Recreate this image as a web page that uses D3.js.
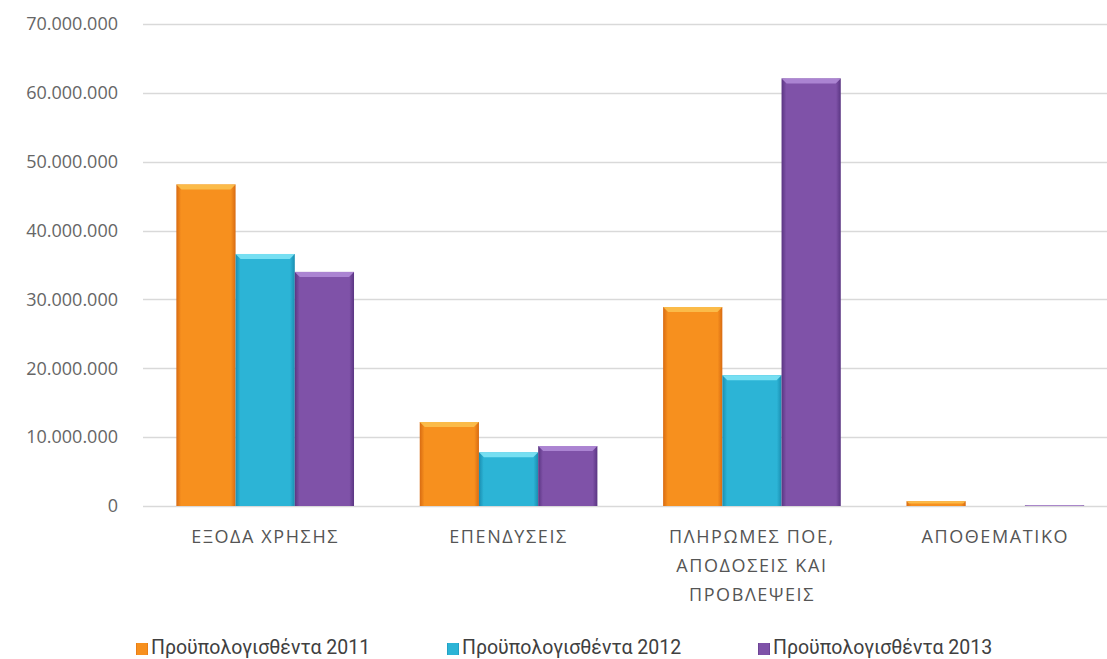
<!DOCTYPE html>
<html>
<head>
  <meta charset="utf-8">
  <title>Bar Chart</title>
  <script src="https://d3js.org/d3.v7.min.js"></script>
  <style>
    body { margin: 0; background: #fff; }
    .tick-label { font-family: "Open Sans", sans-serif; font-size: 18px; fill: #666666; }
    .cat-label { font-family: "Open Sans", sans-serif; font-size: 18px; letter-spacing: 1.6px; fill: #555555; }
    .legend-label { font-family: "Roboto", sans-serif; font-size: 19.5px; fill: #404040; }
  </style>
</head>
<body>
  <svg id="bar_chart" width="1107" height="659"></svg>

  <script>
    // data
    var categories = [
      ["ΕΞΟΔΑ ΧΡΗΣΗΣ"],
      ["ΕΠΕΝΔΥΣΕΙΣ"],
      ["ΠΛΗΡΩΜΕΣ ΠΟΕ,", "ΑΠΟΔΟΣΕΙΣ ΚΑΙ", "ΠΡΟΒΛΕΨΕΙΣ"],
      ["ΑΠΟΘΕΜΑΤΙΚΟ"]
    ];
    var seriesNames = ["Προϋπολογισθέντα 2011", "Προϋπολογισθέντα 2012", "Προϋπολογισθέντα 2013"];
    var values2011 = [46700000, 12200000, 28900000, 700000];
    var values2012 = [36600000, 7800000, 19000000, 0];
    var values2013 = [34000000, 8700000, 62100000, 100000];
    var yTicks = [0, 10000000, 20000000, 30000000, 40000000, 50000000, 60000000, 70000000];

    var series = [values2011, values2012, values2013];
    var colors = [
      { base: "#f7901e", dark: "#d86b12", light: "#fbc04e" },
      { base: "#2cb4d6", dark: "#1a8db0", light: "#7ee3f5" },
      { base: "#7f52a8", dark: "#5a3582", light: "#b08ad6" }
    ];

    var svg = d3.select("#bar_chart");

    var x0 = d3.scaleBand()
      .domain(d3.range(categories.length))
      .range([143.5, 1117])
      .paddingInner(0.27)
      .paddingOuter(0.135);

    var x1 = d3.scaleBand()
      .domain(d3.range(series.length))
      .range([0, x0.bandwidth()]);

    var y = d3.scaleLinear()
      .domain([0, 70000000])
      .range([506, 24]);

    var fmt = function(v) {
      return d3.format(",")(v).replace(/,/g, ".");
    };

    // gradients
    var defs = svg.append("defs");
    colors.forEach(function(c, i) {
      var g = defs.append("linearGradient").attr("id", "grad" + i)
        .attr("x1", 0).attr("x2", 1).attr("y1", 0).attr("y2", 0);
      g.append("stop").attr("offset", "0%").attr("stop-color", c.dark);
      g.append("stop").attr("offset", "8%").attr("stop-color", c.base);
      g.append("stop").attr("offset", "50%").attr("stop-color", c.base);
      g.append("stop").attr("offset", "92%").attr("stop-color", c.base);
      g.append("stop").attr("offset", "100%").attr("stop-color", c.dark);
    });

    // gridlines
    svg.append("g").selectAll("line")
      .data(yTicks)
      .join("line")
      .attr("x1", 143).attr("x2", 1107)
      .attr("y1", function(d) { return Math.round(y(d)) + 0.5; })
      .attr("y2", function(d) { return Math.round(y(d)) + 0.5; })
      .attr("stroke", "#d9d9d9")
      .attr("stroke-width", 1.3);

    // y tick labels
    svg.append("g").selectAll("text")
      .data(yTicks)
      .join("text")
      .attr("class", "tick-label")
      .attr("x", 118)
      .attr("y", function(d) { return y(d); })
      .attr("dy", "0.35em")
      .attr("text-anchor", "end")
      .text(fmt);

    // bars
    var groups = svg.append("g").selectAll("g")
      .data(categories)
      .join("g")
      .attr("transform", function(d, i) { return "translate(" + x0(i) + ",0)"; });

    groups.each(function(c, ci) {
      var g = d3.select(this);
      series.forEach(function(vals, si) {
        var v = vals[ci];
        var bx = x1(si), bw = x1.bandwidth();
        var top = y(v), h = y(0) - y(v);
        if (h <= 0) return;
        g.append("rect")
          .attr("x", bx).attr("y", top)
          .attr("width", bw).attr("height", h)
          .attr("fill", "url(#grad" + si + ")");
        // bevel top
        var bev = Math.min(5, h / 2);
        g.append("path")
          .attr("d", "M" + bx + "," + top + "L" + (bx + bw) + "," + top +
            "L" + (bx + bw - bev) + "," + (top + bev) + "L" + (bx + bev) + "," + (top + bev) + "Z")
          .attr("fill", colors[si].light)
          .attr("opacity", 0.9);
      });
    });

    // category labels
    var labels = svg.append("g").selectAll("text")
      .data(categories)
      .join("text")
      .attr("class", "cat-label")
      .attr("text-anchor", "middle")
      .attr("x", function(d, i) { return x0(i) + x0.bandwidth() / 2; })
      .attr("y", 542.5);
    labels.selectAll("tspan")
      .data(function(d) { return d; })
      .join("tspan")
      .attr("x", function() { return d3.select(this.parentNode).attr("x"); })
      .attr("dy", function(d, i) { return i === 0 ? 0 : 29; })
      .text(function(d) { return d; });

    // legend
    var legendX = [136, 447, 758];
    var legend = svg.append("g").selectAll("g")
      .data(seriesNames)
      .join("g")
      .attr("transform", function(d, i) { return "translate(" + legendX[i] + ",654)"; });
    legend.append("rect")
      .attr("x", 0).attr("y", -11)
      .attr("width", 12).attr("height", 12)
      .attr("fill", function(d, i) { return "url(#grad" + i + ")"; });
    legend.append("text")
      .attr("class", "legend-label")
      .attr("x", 15)
      .text(function(d) { return d; });
  </script>
</body>
</html>
